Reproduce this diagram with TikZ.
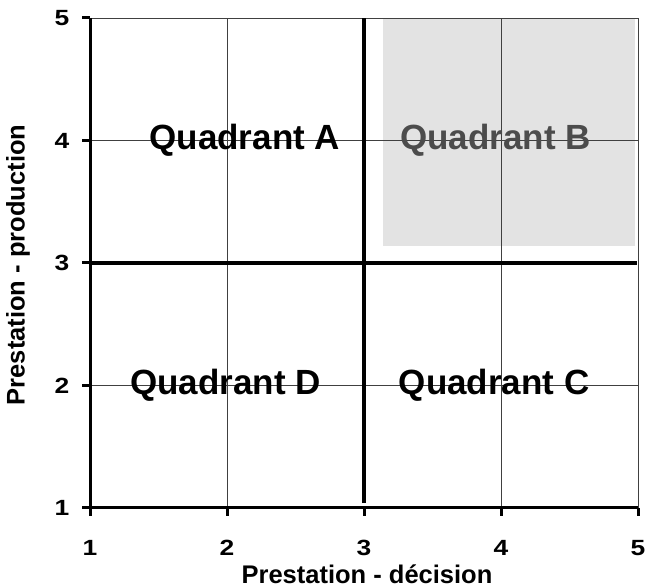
\documentclass[tikz,border=0pt]{standalone}
\usepackage{fontspec}
\setmainfont{Liberation Sans}
\begin{document}
\begin{tikzpicture}[
  thin grid/.style={draw=black!75, line width=0.9pt},
  thick axis/.style={draw=black, line width=3pt},
  divider/.style={draw=black, line width=3.6pt},
  tick lbl/.style={font=\fontsize{22}{26}\selectfont\bfseries, inner sep=0pt, xscale=1.2},
  axis title/.style={font=\fontsize{25.5}{30}\selectfont\bfseries, inner sep=0pt},
  quad lbl/.style={font=\fontsize{35}{40}\selectfont\bfseries, inner sep=0pt}
]
\useasboundingbox (0,0) rectangle (647pt,588pt);
\begin{scope}[x=137pt, y=122.5pt, shift={(-47pt,-42.5pt)}]
  % shaded quadrant B
  \fill[black!11] (3.14,3.14) rectangle (4.98,5);
  % thin grid
  \foreach \g in {2,4} {
    \draw[thin grid] (\g,1) -- (\g,5);
    \draw[thin grid] (1,\g) -- (5,\g);
  }
  \draw[thin grid] (1,5) -- (5,5) -- (5,1);
  % dividers
  \draw[divider] (3,1.04) -- (3,5);
  \draw[divider] (1,3) -- (4.99,3);
  % axes
  \draw[thick axis] (1,5) -- (1,1) -- (5,1);
  \foreach \g in {1,...,5} {
    \draw[thick axis] (1,\g) -- ++(-8pt,0);
    \draw[thick axis] (\g,1) -- ++(0,-8pt);
    \node[tick lbl] (y\g) at ([xshift=-28pt]1,\g) {\g};
    \node[tick lbl] (x\g) at ([yshift=-40pt]\g,1) {\g};
  }
  % quadrant labels
  \node[quad lbl] (qa) at (2.13,4) {Quadrant A};
  \node[quad lbl, text=black!70] (qb) at (3.96,4) {Quadrant B};
  \node[quad lbl] (qc) at (3.95,2) {Quadrant C};
  \node[quad lbl] (qd) at (1.99,2) {Quadrant D};
\end{scope}
% axis titles
\node[axis title] (xt) at (367pt,14pt) {Prestation - décision};
\node[axis title, rotate=90] (yt) at (18pt,323pt) {Prestation - production};
\end{tikzpicture}
\end{document}
